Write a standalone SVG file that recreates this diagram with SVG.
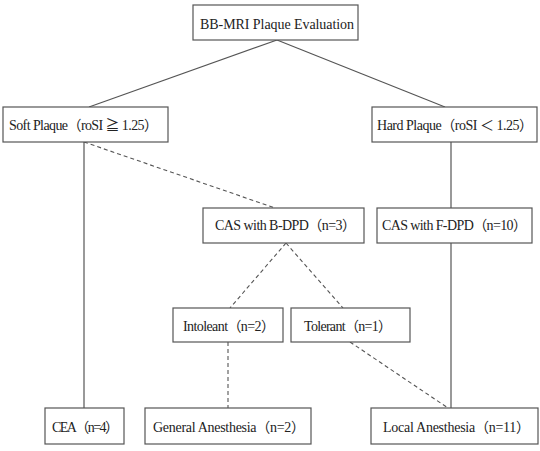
<svg xmlns="http://www.w3.org/2000/svg" width="540" height="451" viewBox="0 0 540 451">
<style>
rect{fill:#fff;stroke:#555;stroke-width:1.2}
text{font-family:"Liberation Serif","Noto Sans CJK JP",serif;font-size:14px;fill:#222}
.s{stroke:#555;stroke-width:1.2;fill:none}
.d{stroke:#555;stroke-width:1.1;fill:none;stroke-dasharray:4 3}
</style>
<rect width="540" height="451" style="fill:#fff;stroke:none"/>
<g id="connectors">
<line class="s" x1="277" y1="40" x2="89" y2="107"/>
<line class="s" x1="277" y1="40" x2="445" y2="107"/>
<line class="s" x1="84" y1="142" x2="84" y2="408"/>
<line class="d" x1="84" y1="142" x2="275" y2="208"/>
<line class="s" x1="451" y1="142" x2="451" y2="208"/>
<line class="s" x1="451" y1="243" x2="451" y2="408"/>
<line class="d" x1="286" y1="243" x2="230" y2="308"/>
<line class="d" x1="286" y1="243" x2="343" y2="308"/>
<line class="d" x1="228" y1="342" x2="228" y2="408"/>
<line class="d" x1="350" y1="342" x2="448" y2="408"/>
</g>
<g id="root"><rect x="193" y="5" width="165" height="35"/><text x="200" y="29" textLength="154">BB-MRI Plaque Evaluation</text></g>
<g id="soft"><rect x="3" y="107" width="165" height="35"/><text x="9" y="130" textLength="149">Soft Plaque（roSI ≧ 1.25）</text></g>
<g id="hard"><rect x="372" y="107" width="165" height="35"/><text x="377" y="130" textLength="156">Hard Plaque（roSI ＜ 1.25）</text></g>
<g id="casb"><rect x="203" y="208" width="161" height="35"/><text x="215" y="230" textLength="141">CAS with B-DPD（n=3）</text></g>
<g id="casf"><rect x="377" y="208" width="155" height="35"/><text x="382" y="230" textLength="145">CAS with F-DPD（n=10）</text></g>
<g id="intol"><rect x="173" y="308" width="110" height="34"/><text x="183" y="331" textLength="92">Intoleant（n=2）</text></g>
<g id="tol"><rect x="291" y="308" width="119" height="34"/><text x="304" y="331" textLength="88">Tolerant（n=1）</text></g>
<g id="cea"><rect x="45" y="408" width="79" height="36"/><text x="52" y="432" textLength="67">CEA（n=4）</text></g>
<g id="general"><rect x="145" y="408" width="166" height="36"/><text x="153" y="432" textLength="152">General Anesthesia（n=2）</text></g>
<g id="local"><rect x="371" y="408" width="167" height="36"/><text x="383" y="432" textLength="147">Local Anesthesia（n=11）</text></g>
</svg>
